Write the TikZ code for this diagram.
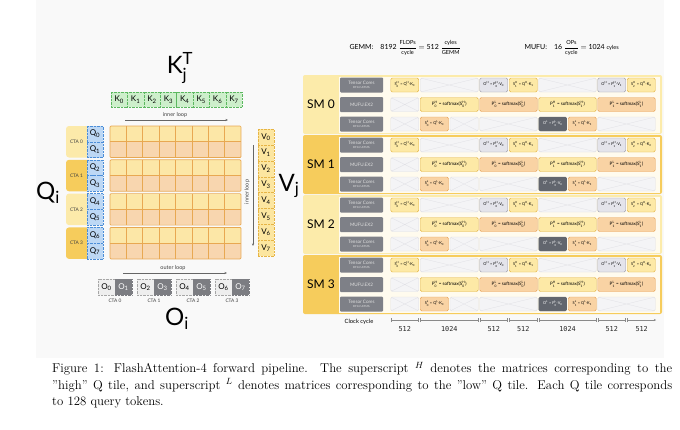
\documentclass[tikz,border=0pt]{standalone}
\usepackage{fontspec}
\usepackage{amsmath}
\usetikzlibrary{arrows.meta}
\newfontfamily\figfont{Lato}
\newfontfamily\numfont{DejaVu Sans Mono}

\definecolor{panelbg}{HTML}{F9F9F9}
\definecolor{kgreen}{HTML}{CDEFCB}
\definecolor{kgreenline}{HTML}{5CB860}
\definecolor{qblue}{HTML}{BDD8F5}
\definecolor{qblueline}{HTML}{4C8ED8}
\definecolor{vyellow}{HTML}{FCE6A0}
\definecolor{vyellowline}{HTML}{E6B445}
\definecolor{rowA}{HTML}{FCE7A7}
\definecolor{rowB}{HTML}{F8D6AF}
\definecolor{gridline}{HTML}{E8A852}
\definecolor{ctaA}{HTML}{FCEAAA}
\definecolor{ctaB}{HTML}{F6CC5C}
\definecolor{olight}{HTML}{EEEEEE}
\definecolor{odark}{HTML}{7C7D82}
\definecolor{smA}{HTML}{FCEBAA}
\definecolor{smB}{HTML}{F6CC5C}
\definecolor{lane}{HTML}{FFFBEE}
\definecolor{unitgray}{HTML}{7E8087}
\definecolor{hfill}{HTML}{FDE9A6}
\definecolor{hline}{HTML}{E3B342}
\definecolor{lfill}{HTML}{F9D3A4}
\definecolor{lline}{HTML}{E8A155}
\definecolor{ohfill}{HTML}{E4E4EB}
\definecolor{ohline}{HTML}{9D9DAB}
\definecolor{olfill}{HTML}{62666E}
\definecolor{nofill}{HTML}{F4F4F6}
\definecolor{noline}{HTML}{E0E0E5}
\definecolor{axisgray}{HTML}{8A8A8A}

\newcommand{\tile}[2]{#1$_{\text{#2}}$}
\newcommand{\mx}[3]{#1$^{\text{#3}}_{\text{#2}}$}
\newcommand{\rate}[2]{$\dfrac{\text{\fontsize{5.6}{6}\selectfont #1}}{\text{\fontsize{5.6}{6}\selectfont #2}}$}
\newcommand{\nar}{\fontsize{3.9}{4}\selectfont}

\begin{document}
\begin{tikzpicture}[x=1pt, y=-1pt,
    kbox/.style={draw=kgreenline, densely dotted, fill=kgreen, minimum width=16.4pt, minimum height=15pt, inner sep=0pt, font=\figfont\fontsize{8}{8}\selectfont},
    qbox/.style={draw=qblueline, densely dotted, fill=qblue, minimum width=16pt, minimum height=15.75pt, inner sep=0pt, font=\figfont\fontsize{8}{8}\selectfont},
    vbox/.style={draw=vyellowline, densely dotted, fill=vyellow, minimum width=16pt, minimum height=15.9pt, inner sep=0pt, font=\figfont\fontsize{8}{8}\selectfont},
    obox/.style={draw=gray!70, densely dotted, fill=olight, minimum width=17pt, minimum height=16pt, inner sep=0pt, font=\figfont\fontsize{8}{8}\selectfont},
    odbox/.style={obox, draw=odark, fill=odark, text=white},
    ctatext/.style={font=\figfont\fontsize{4.8}{5}\selectfont, text=black!75},
    biglabel/.style={font=\figfont\fontsize{24}{24}\selectfont},
    looptext/.style={font=\figfont\fontsize{5.5}{6}\selectfont, text=black!75},
    looparrow/.style={-{Stealth[length=2.5pt, width=2pt]}, black!60, line width=0.5pt},
    smlabel/.style={font=\figfont\fontsize{12}{12}\selectfont},
    unit/.style={fill=unitgray, rounded corners=1pt, minimum width=43pt, minimum height=15pt, inner sep=0pt, align=center, text=white!88!black, font=\figfont\fontsize{4.6}{5}\selectfont},
    cellbase/.style={rounded corners=1.5pt, minimum height=14pt, inner sep=0pt, line width=0.4pt, font=\figfont\fontsize{4.6}{5}\selectfont},
    hcell/.style={cellbase, draw=hline, fill=hfill},
    lcell/.style={cellbase, draw=lline, fill=lfill},
    ocell/.style={cellbase, draw=ohline, fill=ohfill},
    dcell/.style={cellbase, draw=olfill, fill=olfill, text=white},
    nocell/.style={cellbase, draw=noline, fill=nofill, path picture={\draw[noline, line width=0.3pt] (path picture bounding box.north west) -- (path picture bounding box.south east) (path picture bounding box.south west) -- (path picture bounding box.north east);}},
    axis/.style={axisgray, line width=0.5pt},
    num/.style={font=\numfont\fontsize{6.8}{7}\selectfont, text=black!85},
    eqtext/.style={font=\figfont\fontsize{7}{8}\selectfont, anchor=west}]
    \useasboundingbox (0,0) rectangle (680,429);
    \fill[panelbg] (36,0) rectangle (664,358);

    % left: K^T row
    \node[biglabel] (kt) at (180,68) {K$^{\text{T}}_{\text{j}}$};
    \foreach \k in {0,...,7}
        \node[kbox] (k\k) at (119.2+16.4*\k,99.5) {\tile{K}{\k}};
    \coordinate (ilA) at (125,120);
    \coordinate (ilB) at (228,120);
    \draw[looparrow] (ilA) -- (ilB);
    \node[looptext] (iltext) at (175,114.5) {inner loop};

    % left: Q tiles, CTAs, score grid
    \foreach \yb/\cc [count=\b from 0] in {126/ctaA,159.8/ctaB,193.6/ctaA,227.4/ctaB} {
        \pgfmathtruncatemacro\qa{2*\b}
        \pgfmathtruncatemacro\qb{2*\b+1}
        \fill[\cc, rounded corners=3pt] (66,\yb) rectangle (92,\yb+31.5);
        \node[ctatext, anchor=center] (cta\b) at (76.5,\yb+15.75) {CTA \b};
        \node[qbox] (q\qa) at (95,\yb+7.875) {\tile{Q}{\qa}};
        \node[qbox] (q\qb) at (95,\yb+23.625) {\tile{Q}{\qb}};
        \fill[rowA] (110,\yb) rectangle (241,\yb+15.75);
        \fill[rowB] (110,\yb+15.75) rectangle (241,\yb+31.5);
        \foreach \c in {1,...,7}
            \draw[gridline, line width=0.7pt] (110+16.375*\c,\yb) -- ++(0,31.5);
        \draw[gridline, line width=0.7pt] (110,\yb+15.75) -- (241,\yb+15.75);
        \draw[gridline, line width=0.7pt, rounded corners=1pt] (110,\yb) rectangle (241,\yb+31.5);
    }
    \node[biglabel] (qi) at (48,193) {Q$_{\text{i}}$};

    % left: V tiles
    \foreach \v in {0,...,7}
        \node[vbox] (v\v) at (266,136.95+15.9*\v) {\tile{V}{\v}};
    \node[biglabel] (vj) at (289,186) {V$_{\text{j}}$};
    \coordinate (ivA) at (253,145);
    \coordinate (ivB) at (253,246);
    \draw[looparrow] (ivA) -- (ivB);
    \node[looptext, rotate=90] (ivtext) at (247,192) {inner loop};

    % left: outputs
    \coordinate (olA) at (123,273);
    \coordinate (olB) at (227,273);
    \draw[looparrow] (olA) -- (olB);
    \node[looptext] (oltext) at (173,267.5) {outer loop};
    \foreach \ox [count=\p from 0] in {98,137,176,215} {
        \pgfmathtruncatemacro\oa{2*\p}
        \pgfmathtruncatemacro\ob{2*\p+1}
        \node[obox] (o\oa) at (\ox+8.5,287) {\tile{O}{\oa}};
        \node[odbox] (o\ob) at (\ox+25.5,287) {\tile{O}{\ob}};
        \node[ctatext] (octa\p) at (\ox+17,301) {CTA \p};
    }
    \node[biglabel] (oi) at (177,319) {O$_{\text{i}}$};

    % right: throughput
    \node[eqtext] (gemm) at (346,48) {GEMM:\quad 8192 \rate{FLOPs}{cycle} $=$ 512 \rate{cyles}{GEMM}};
    \node[eqtext] (mufu) at (521,48) {MUFU:\quad 16 \rate{OPs}{cycle} $=$ 1024 {\fontsize{5.6}{6}\selectfont cyles}};

    % right: SM pipelines
    \foreach \T/\smc [count=\s from 0] in {75/smA,135/smB,195/smA,255/smB} {
        \fill[\smc, rounded corners=2pt] (303,\T) rectangle (662,\T+59);
        \fill[lane] (338.5,\T+1.5) rectangle (660,\T+57.5);
        \node[smlabel] (sm\s) at (321,\T+29.5) {SM \s};
        \node[unit] (tch\s) at (361.5,\T+10) {Tensor Cores\\[-1.2pt]{\fontsize{2.8}{3}\selectfont BF16 UMMA}};
        \node[unit] (mufu\s) at (361.5,\T+29.5) {MUFU.EX2};
        \node[unit] (tcl\s) at (361.5,\T+49) {Tensor Cores\\[-1.2pt]{\fontsize{2.8}{3}\selectfont BF16 UMMA}};
        \foreach \a/\b/\st/\tx [count=\i] in {
            390/419.5/hcell/{\nar\mx{S}{0}{H} = \mx{Q}{}{H}·\tile{K}{0}},
            419.5/479/nocell/{},
            479/508.5/ocell/{\nar\mx{O}{}{H} = \mx{P}{0}{H}·\tile{V}{0}},
            508.5/538/hcell/{\nar\mx{S}{1}{H} = \mx{Q}{}{H}·\tile{K}{1}},
            538/597/nocell/{},
            597/626.5/ocell/{\nar\mx{O}{}{H} = \mx{P}{1}{H}·\tile{V}{1}},
            626.5/656/hcell/{\nar\mx{S}{2}{H} = \mx{Q}{}{H}·\tile{K}{2}}}
            \node[\st, minimum width=\b-\a-1.5] (h\s-\i) at ({(\a+\b)/2},\T+10) {\tx};
        \foreach \a/\b/\st/\tx [count=\i] in {
            390/419.5/nocell/{},
            419.5/479/hcell/{\mx{P}{0}{H} = softmax(\mx{S}{0}{H})},
            479/538/lcell/{\mx{P}{0}{L} = softmax(\mx{S}{0}{L})},
            538/597/hcell/{\mx{P}{1}{H} = softmax(\mx{S}{1}{H})},
            597/656/lcell/{\mx{P}{1}{L} = softmax(\mx{S}{1}{L})}}
            \node[\st, minimum width=\b-\a-1.5] (m\s-\i) at ({(\a+\b)/2},\T+29.5) {\tx};
        \foreach \a/\b/\st/\tx [count=\i] in {
            390/419.5/nocell/{},
            419.5/449.25/lcell/{\nar\mx{S}{0}{L} = \mx{Q}{}{L}·\tile{K}{0}},
            449.25/479/nocell/{},
            479/538/nocell/{},
            538/567.5/dcell/{\nar\mx{O}{}{L} = \mx{P}{0}{L}·\tile{V}{0}},
            567.5/597/lcell/{\nar\mx{S}{1}{L} = \mx{Q}{}{L}·\tile{K}{1}},
            597/656/nocell/{}}
            \node[\st, minimum width=\b-\a-1.5] (l\s-\i) at ({(\a+\b)/2},\T+49) {\tx};
    }

    % right: clock axis
    \node[font=\figfont\fontsize{5.8}{6}\selectfont] (clk) at (359,322) {Clock cycle};
    \foreach \x [count=\i from 0] in {390,419.5,479,508.5,538,597,626.5,656}
        \coordinate (t\i) at (\x,320);
    \foreach \i/\j/\lab in {0/1/512,1/2/1024,2/3/512,3/4/512,4/5/1024,5/6/512}
        \draw[axis, {Bar[width=4pt]}-{Bar[width=4pt]}] ([xshift=0.8pt]t\i) -- node[num, below=2.5pt] (n\i) {\lab} ([xshift=-0.8pt]t\j);
    \draw[axis, {Bar[width=4pt]}-{Stealth[length=2pt, width=2pt]}] ([xshift=0.8pt]t6) -- node[num, below=2.5pt] (n6) {512} (t7);

    % caption
    \node[anchor=north west, text width=620pt, align=justify, inner sep=0pt, font=\fontsize{12.8}{16.5}\selectfont] (caption) at (52,362) {Figure 1: FlashAttention-4 forward pipeline. The superscript $^H$ denotes the matrices corresponding to the\linebreak ”high” Q tile, and superscript $^L$ denotes matrices corresponding to the ”low” Q tile. Each Q tile corresponds\linebreak to 128 query tokens.};
\end{tikzpicture}
\end{document}
